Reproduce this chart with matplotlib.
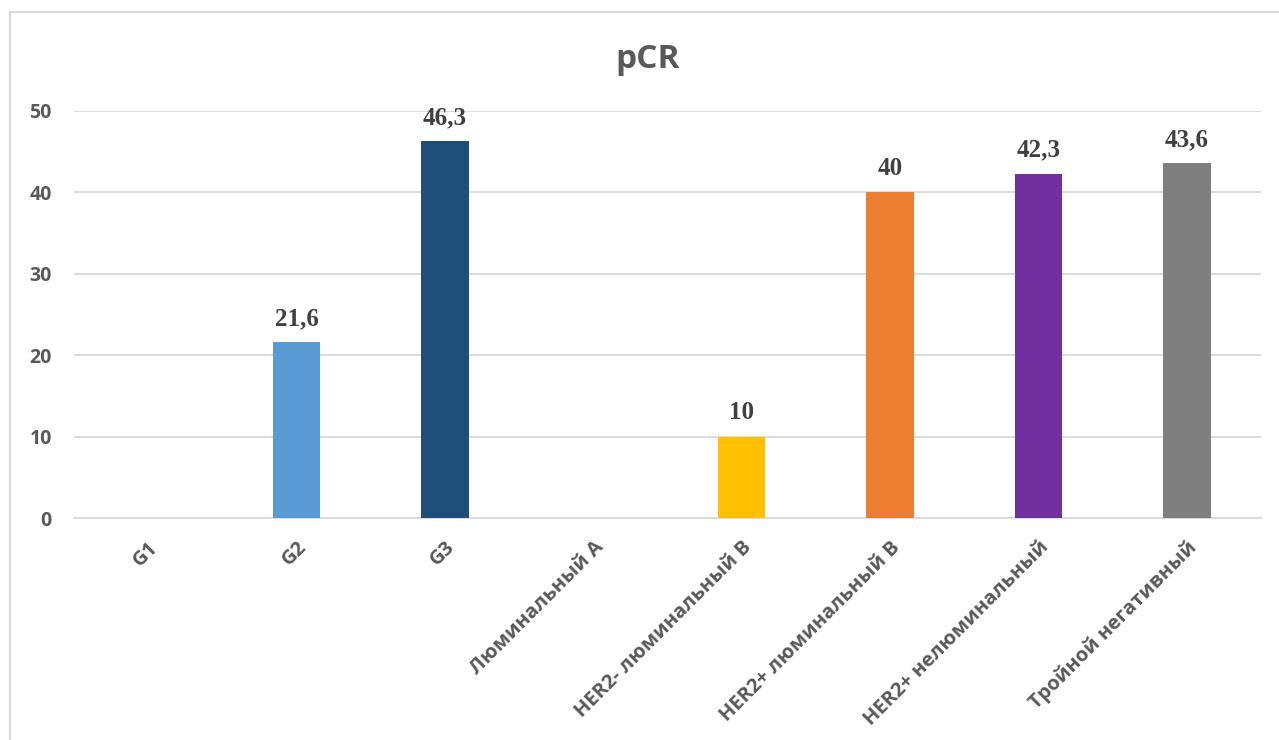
import matplotlib

matplotlib.use("Agg")
import matplotlib.pyplot as plt
from matplotlib.patches import Rectangle

categories = [
    "G1",
    "G2",
    "G3",
    "Люминальный А",
    "HER2- люминальный В",
    "HER2+ люминальный В",
    "HER2+ нелюминальный",
    "Тройной негативный",
]
values = [0, 21.6, 46.3, 0, 10, 40, 42.3, 43.6]
value_labels = ["", "21,6", "46,3", "", "10", "40", "42,3", "43,6"]
colors = ["#5B9BD5", "#5B9BD5", "#1F4E79", "#A5A5A5",
          "#FFC000", "#ED7D31", "#7030A0", "#7F7F7F"]
y_ticks = [0, 10, 20, 30, 40, 50]

W, H = 1279, 740
fig = plt.figure(figsize=(W / 100, H / 100), dpi=100)
ax = fig.add_axes([74 / W, 1 - 518 / H, (1261 - 74) / W, (518 - 111) / H])

x = range(len(categories))
ax.bar(x, values, width=0.32, color=colors, zorder=3)

for xi, v, lab in zip(x, values, value_labels):
    if lab:
        ax.text(xi, v + 1.5, lab, ha="center", va="bottom",
                family="Liberation Serif", fontweight="bold",
                fontsize=18, color="#404040")

ax.set_xlim(-0.5, len(categories) - 0.5)
ax.set_ylim(0, 50)
ax.set_yticks(y_ticks)
ax.set_yticklabels([str(t) for t in y_ticks], family="Open Sans",
                   fontweight="bold", fontsize=14, color="#595959")
ax.set_xticks(list(x))
ax.set_xticklabels(categories, rotation=45, ha="right",
                   rotation_mode="anchor", family="Open Sans",
                   fontweight="bold", fontsize=14.5, color="#595959")
ax.tick_params(axis="both", length=0)
ax.tick_params(axis="y", pad=16)
ax.tick_params(axis="x", pad=14)

ax.yaxis.grid(True, color="#D9D9D9", linewidth=1.3, zorder=0)
ax.set_axisbelow(True)
for side in ("top", "right", "left"):
    ax.spines[side].set_visible(False)
ax.spines["bottom"].set_color("#D9D9D9")
ax.spines["bottom"].set_linewidth(1.3)

fig.text(648 / W, 1 - 60 / H, "pCR", ha="center", va="center",
         family="Open Sans", fontweight="bold", fontsize=24, color="#595959")

# chart frame, cut off at right and bottom edges
fig.patches.append(Rectangle((10 / W, -0.05), 1.2, 1 - 12 / H + 0.05,
                             transform=fig.transFigure, fill=False,
                             edgecolor="#D9D9D9", linewidth=1.5))

fig.savefig("out.png", dpi=100)
